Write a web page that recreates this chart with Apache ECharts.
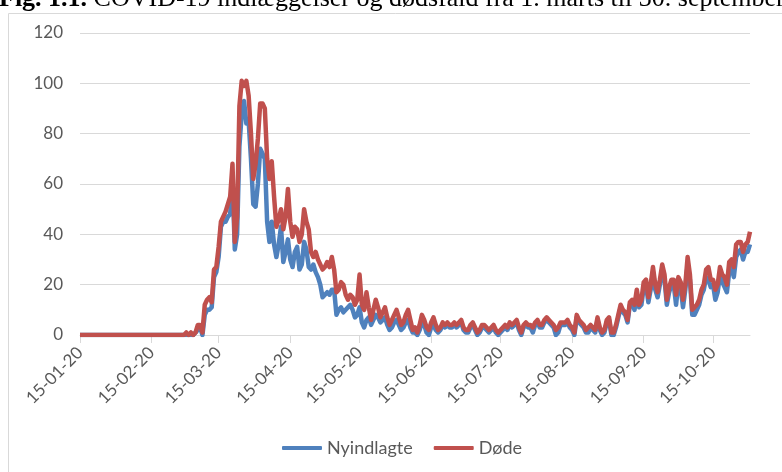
<!DOCTYPE html>
<html>
<head>
<meta charset="utf-8">
<script src="https://cdn.jsdelivr.net/npm/echarts@6/dist/echarts.min.js"></script>
<style>
  html, body { margin: 0; background: #fff; }
  #chart { width: 782px; height: 472px; }
</style>
</head>
<body>
<div id="chart"></div>
<script>
// daglige tal fra 15-01-20 til 31-10-20
const nulJanFeb = [
  0,0,0,0,0,0,0,0,0,0,0,0,0,0,0,0,0,
  0,0,0,0,0,0,0,0,0,0,0,0,0,0,0,0,0,0,0,0,0,0,0,0,0,0,0,0,0
];

const nyindlagte = nulJanFeb.concat([
  // marts
  0,0,0,0,1,2,3,0,8,10,10,11,23,25,31,43,45,45,47,48,62,34,40,75,88,93,84,85,70,52,51,
  // april
  60,74,72,70,45,37,45,36,31,36,43,29,33,38,30,27,33,35,26,28,37,34,27,26,28,25,23,20,15,16,
  // maj
  17,16,18,18,8,10,11,9,10,11,12,10,7,8,11,5,3,6,7,4,6,8,7,5,6,7,4,2,3,5,6,
  // juni
  4,2,3,5,6,3,1,1,0,2,5,4,1,0,3,4,2,1,2,4,3,4,3,3,4,3,4,5,2,1,
  // juli
  1,3,4,2,0,1,3,3,2,1,2,3,1,0,1,2,3,2,4,3,4,5,2,0,3,4,3,3,1,4,5,
  // august
  3,3,5,6,5,4,3,0,1,4,4,4,5,3,2,0,7,5,4,3,1,1,3,2,1,6,2,0,1,5,6,
  // september
  0,0,3,7,11,9,8,5,12,13,10,16,11,12,19,20,13,18,25,18,15,20,26,22,12,17,20,20,12,21,
  // oktober
  19,11,18,28,22,8,8,10,12,16,18,23,22,19,20,14,17,24,21,19,17,25,27,23,31,33,34,30,33,33,36
]);

const doede = nulJanFeb.concat([
  // marts
  1,0,1,0,1,4,4,1,12,14,15,13,26,27,35,45,47,49,52,55,68,37,47,91,101,99,101,95,80,62,68,
  // april
  78,92,92,90,70,62,69,55,43,46,50,42,47,58,45,39,43,42,37,40,50,45,42,33,31,33,30,28,26,27,
  // maj
  29,27,31,26,17,18,21,20,16,14,16,15,12,14,24,12,10,17,11,6,10,14,11,7,9,11,7,4,6,8,10,
  // juni
  7,4,5,8,10,6,2,3,1,4,8,6,3,2,5,7,4,2,3,5,4,5,4,4,5,4,5,6,3,2,
  // juli
  2,4,5,3,1,2,4,4,3,2,3,4,2,1,2,3,4,3,5,4,5,6,3,1,4,5,4,4,3,5,6,
  // august
  4,4,6,7,6,5,4,2,3,5,5,5,6,4,3,1,8,6,5,4,2,3,4,3,2,7,3,1,2,6,7,
  // september
  1,1,4,8,12,10,9,6,13,14,12,18,12,14,21,22,15,20,27,20,17,22,28,24,14,19,22,22,16,23,
  // oktober
  21,14,20,31,24,10,11,12,14,18,20,26,27,22,22,18,20,27,24,23,20,29,30,27,36,37,37,33,36,37,41
]);

const serieNavne = ['Nyindlagte', 'Døde'];
const farver = ['#4F81BD', '#C0504D'];

function pad(n) {
  return n < 10 ? '0' + n : '' + n;
}

// kategorier: dd-mm-yy, en pr. dag
const datoer = [];
for (let i = 0; i < doede.length; i++) {
  const d = new Date(2020, 0, 15 + i);
  datoer.push(pad(d.getDate()) + '-' + pad(d.getMonth() + 1) + '-' + String(d.getFullYear()).slice(2));
}

// kun den 15. i hver måned får streg og tekst
function hverMaaned(idx, value) {
  return value.indexOf('15-') === 0;
}

const chart = echarts.init(document.getElementById('chart'));

const option = {
  animation: false,
  textStyle: { fontFamily: 'Lato' },
  graphic: [
    {
      type: 'rect',
      silent: true,
      z: -10,
      shape: { x: 8.5, y: 13.5, width: 900, height: 600 },
      style: { fill: 'none', stroke: '#d9d9d9', lineWidth: 1 }
    },
    {
      type: 'text',
      silent: true,
      x: -1,
      y: -1,
      style: {
        text: '{b|Fig. 1.1.} COVID-19 indlæggelser og dødsfald fra 1. marts til 30. september',
        fontFamily: 'Liberation Serif',
        fontSize: 26,
        fill: '#000',
        verticalAlign: 'middle',
        rich: {
          b: { fontFamily: 'Liberation Serif', fontSize: 26, fontWeight: 'bold', fill: '#000' }
        }
      }
    }
  ],
  grid: { left: 80, right: 32, top: 33, bottom: 137 },
  legend: {
    left: 282,
    top: 439,
    padding: 0,
    icon: 'roundRect',
    itemWidth: 40,
    itemHeight: 4,
    itemGap: 21,
    textStyle: { color: '#595959', fontSize: 18 },
    data: serieNavne
  },
  xAxis: {
    type: 'category',
    data: datoer,
    boundaryGap: false,
    axisLine: { lineStyle: { color: '#d9d9d9', width: 1 } },
    axisTick: { interval: hverMaaned, length: 8, lineStyle: { color: '#d9d9d9' } },
    axisLabel: {
      interval: hverMaaned,
      rotate: 45,
      margin: 15,
      color: '#595959',
      fontSize: 17
    },
    splitLine: { show: false }
  },
  yAxis: {
    type: 'value',
    min: 0,
    max: 120,
    interval: 20,
    axisLine: { show: false },
    axisTick: { show: false },
    axisLabel: { color: '#595959', fontSize: 17, margin: 17 },
    splitLine: { lineStyle: { color: '#d9d9d9', width: 1 } }
  },
  series: [
    {
      name: serieNavne[0],
      type: 'line',
      data: nyindlagte,
      showSymbol: false,
      color: farver[0],
      lineStyle: { width: 4.5, color: farver[0], join: 'round' }
    },
    {
      name: serieNavne[1],
      type: 'line',
      data: doede,
      showSymbol: false,
      color: farver[1],
      lineStyle: { width: 4.5, color: farver[1], join: 'round' }
    }
  ]
};

chart.setOption(option);
</script>
</body>
</html>
